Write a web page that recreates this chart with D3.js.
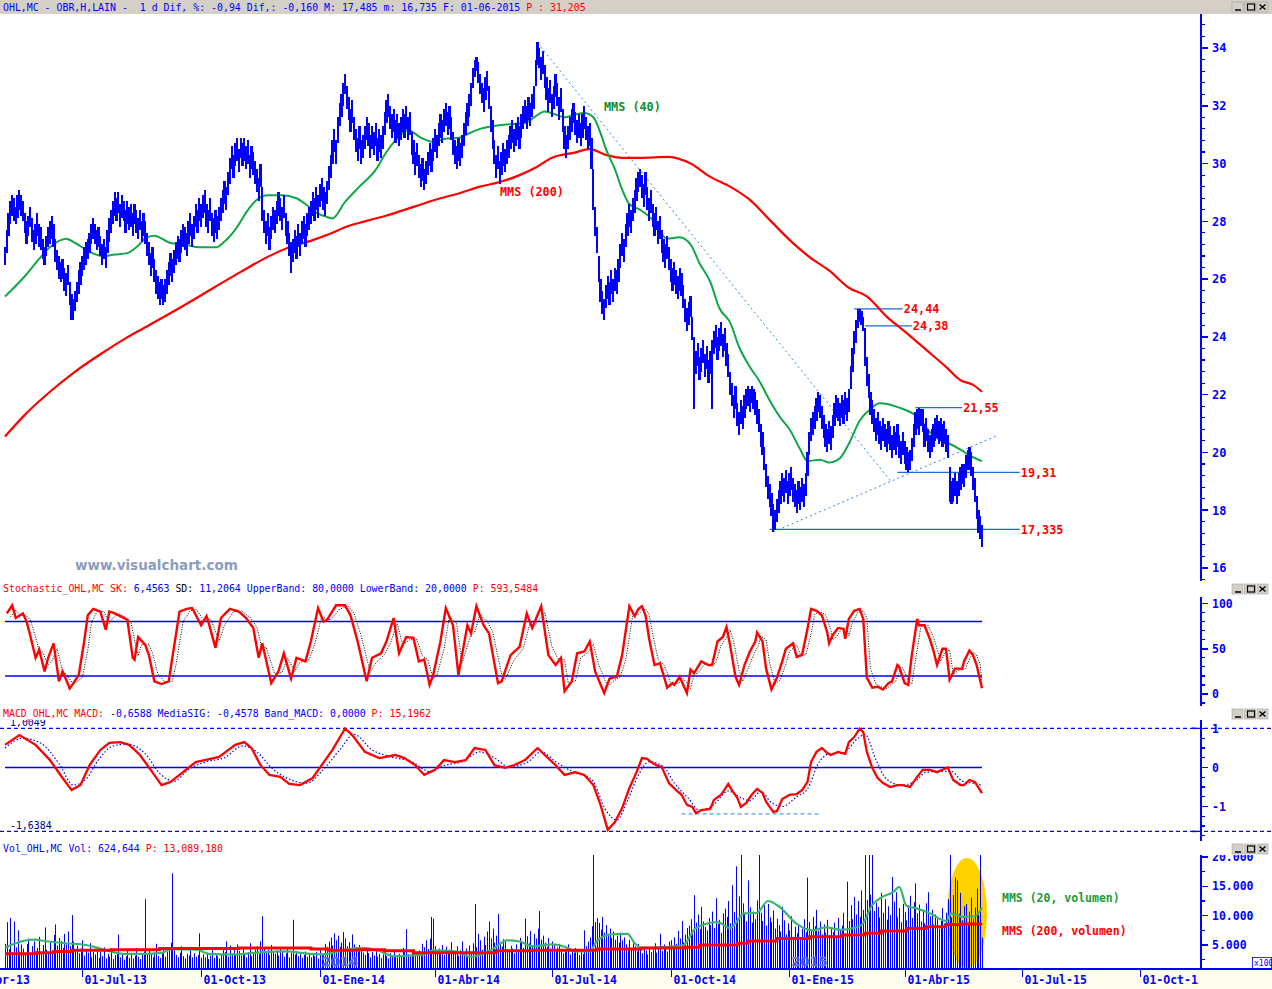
<!DOCTYPE html>
<html><head><meta charset="utf-8">
<script src="https://cdn.jsdelivr.net/npm/d3@7"></script>
<style>body{margin:0;background:#fff;}svg{display:block;}text{white-space:pre;}</style>
</head><body>
<script>
// ---------- DATA ----------
const firstTradingDay = "2013-05-01";
const lows = [
26.5,26.9,27.5,27.9,28.2,28.0,27.9,28.1,28.4,28.2, 28.0,27.6,27.2,27.5,27.8,27.3,27.0,27.2,27.5,27.1,
27.0,26.7,26.5,26.8,27.1,27.2,27.4,27.1,26.6,26.3, 26.0,25.9,26.0,25.6,25.4,25.8,25.1,24.6,24.6,24.9,
25.2,25.5,25.8,26.1,26.3,26.5,26.7,26.9,27.2,27.4, 27.2,27.0,27.1,26.8,26.5,26.7,26.4,26.9,27.3,27.6,
27.9,28.2,28.0,28.3,27.8,28.1,28.0,27.6,27.9,27.7, 27.8,27.5,27.9,27.6,27.4,27.7,27.3,27.5,27.2,26.8,
26.5,26.1,26.4,25.9,25.5,25.3,25.1,25.3,25.1,25.2, 25.5,25.8,26.1,25.9,26.2,26.5,26.7,26.6,26.9,27.1,
27.0,26.8,27.2,27.5,27.1,27.4,27.8,27.6,28.0,27.8, 28.1,28.3,27.8,27.6,28.0,27.5,27.3,27.6,27.4,27.7,
28.0,28.3,28.6,28.4,28.9,29.3,29.8,29.5,29.9,30.1, 29.7,30.2,29.9,30.1,29.8,30.0,29.5,29.8,29.6,29.3,
29.0,28.7,29.2,28.0,27.6,27.2,27.5,27.0,27.4,27.7, 27.6,27.9,28.2,28.0,27.7,28.1,27.5,27.2,26.8,26.2,
26.6,26.9,26.7,27.1,26.8,27.2,27.4,27.1,27.5,27.7, 27.9,28.2,28.0,28.4,28.1,28.5,28.7,28.4,28.2,28.6,
29.1,29.5,30.0,30.4,30.0,30.7,31.3,31.6,32.0,32.4, 31.9,31.5,31.1,31.4,30.8,30.4,30.1,30.5,30.0,30.2,
30.5,30.8,30.6,30.2,30.5,30.3,30.6,30.1,30.4,30.2, 30.5,31.0,31.4,31.6,31.2,30.9,31.1,30.7,30.9,30.6,
30.8,31.1,30.9,31.2,30.8,31.0,30.3,30.0,29.6,29.9, 29.5,29.2,29.4,29.1,29.3,29.6,29.9,29.7,30.1,30.4,
30.2,30.6,30.9,30.7,31.1,31.3,31.0,31.2,30.8,30.3, 30.0,29.8,30.1,29.9,30.2,30.6,31.0,31.3,31.6,32.0,
32.6,33.0,33.2,32.8,32.4,32.1,31.8,32.2,32.5,31.9, 31.1,30.5,30.0,29.5,29.8,29.3,29.6,29.9,29.7,30.0,
30.2,30.5,30.7,30.4,30.6,30.8,30.5,30.9,31.2,31.4, 31.2,31.5,31.3,31.6,31.9,32.7,33.4,33.3,32.9,33.1,
32.6,32.2,31.8,32.1,31.6,31.9,32.3,32.0,31.5,31.8, 31.1,30.5,30.2,30.5,30.8,31.1,31.4,31.0,30.7,30.9,
30.6,30.9,31.2,30.8,30.5,30.6,29.8,28.4,27.5,26.9, 25.9,25.2,24.8,24.6,25.0,25.3,25.1,25.5,25.2,25.6,
25.5,25.9,26.4,26.8,26.6,27.1,27.5,27.8,27.6,28.0, 28.3,28.7,29.0,29.2,28.8,28.5,28.9,28.4,28.0,28.3,
27.8,27.5,27.7,27.2,27.4,26.9,26.6,26.4,26.7,26.3, 25.9,25.6,25.8,25.5,25.3,25.6,25.4,25.0,24.5,24.2,
24.4,24.7,23.9,21.5,22.7,23.0,22.5,22.8,23.1,22.6, 22.9,22.4,22.7,21.5,23.4,23.6,23.2,23.5,23.7,23.3,
23.5,23.0,22.6,22.0,21.6,21.2,21.5,20.9,20.6,21.0, 20.8,21.2,21.5,21.6,21.4,21.7,21.5,21.3,21.0,20.7,
20.2,19.9,19.4,18.8,18.4,18.1,17.8,17.25,17.3,17.6, 17.9,18.2,18.5,18.3,18.6,18.2,18.5,18.7,18.3,18.1,
17.9,18.2,18.0,18.3,18.1,18.5,19.2,19.9,20.4,20.6, 20.8,21.1,21.4,21.2,20.8,20.5,20.2,20.0,20.3,20.1,
20.5,20.9,21.2,21.1,20.9,21.2,21.0,21.3,21.1,21.4, 22.2,22.8,23.4,23.8,24.3,24.5,24.4,24.2,23.0,22.3,
21.9,21.3,21.0,20.7,20.4,20.6,20.3,20.1,20.4,20.2, 20.0,20.3,20.1,19.8,20.1,19.9,20.2,19.8,19.6,19.9,
19.6,19.4,19.31,19.4,19.7,20.2,20.6,20.8,20.6,20.9, 20.7,20.2,20.4,20.0,19.8,20.0,20.2,20.4,20.5,20.3,
20.4,20.2,20.3,20.0,19.8,18.3,18.2,18.3,18.5,18.2, 18.5,18.7,18.9,18.8,19.1,19.4,19.4,19.2,18.7,18.3,
17.7,17.2,17.0,16.74];
const highs = [
27.1,27.7,28.3,28.7,28.9,28.8,28.5,28.9,29.1,28.9, 28.7,28.3,28.0,28.2,28.5,28.1,27.7,27.9,28.3,27.9,
27.8,27.4,27.1,27.5,27.8,28.0,28.2,27.9,27.4,27.0, 26.8,26.6,26.7,26.4,26.2,26.5,25.9,25.5,25.3,25.6,
25.9,26.3,26.6,26.8,27.1,27.3,27.4,27.6,27.9,28.1, 27.9,27.7,27.8,27.5,27.2,27.4,27.1,27.7,28.1,28.4,
28.7,29.0,28.8,29.0,28.6,28.9,28.7,28.4,28.7,28.5, 28.6,28.3,28.6,28.4,28.1,28.4,28.0,28.3,28.0,27.6,
27.3,26.9,27.1,26.7,26.3,26.1,25.9,26.0,25.8,26.0, 26.3,26.6,26.9,26.7,27.0,27.3,27.5,27.4,27.7,27.9,
27.8,27.6,28.0,28.3,27.9,28.2,28.6,28.4,28.8,28.6, 28.9,29.1,28.6,28.4,28.8,28.3,28.1,28.4,28.2,28.5,
28.8,29.1,29.4,29.2,29.7,30.2,30.6,30.3,30.7,30.9, 30.5,30.9,30.7,30.9,30.6,30.8,30.3,30.6,30.4,30.1,
29.8,29.5,30.0,29.2,28.4,28.0,28.3,27.8,28.2,28.5, 28.4,28.7,29.0,28.8,28.5,28.9,28.3,28.0,27.6,27.3,
27.4,27.7,27.5,27.9,27.6,28.0,28.2,27.9,28.3,28.5, 28.7,29.0,28.8,29.2,28.9,29.3,29.5,29.2,29.0,29.4,
29.9,30.3,30.8,31.2,30.8,31.6,32.1,32.4,32.8,33.1, 32.7,32.3,31.9,32.2,31.6,31.2,30.9,31.3,30.8,31.0,
31.3,31.6,31.4,31.0,31.3,31.1,31.4,30.9,31.2,31.0, 31.3,31.8,32.2,32.4,32.0,31.7,31.9,31.5,31.7,31.4,
31.6,31.9,31.7,32.0,31.6,31.8,31.1,30.8,30.4,30.7, 30.3,30.0,30.2,29.8,30.1,30.4,30.7,30.5,30.9,31.2,
31.0,31.4,31.7,31.5,31.9,32.1,31.8,32.0,31.6,31.1, 30.8,30.6,30.9,30.7,31.0,31.4,31.8,32.1,32.4,32.8,
33.3,33.6,33.7,33.5,33.1,32.8,32.6,33.0,33.2,32.7, 32.0,31.5,30.8,30.3,30.6,30.1,30.4,30.7,30.5,30.8,
31.0,31.3,31.5,31.2,31.4,31.6,31.3,31.7,32.0,32.2, 32.0,32.3,32.1,32.4,32.7,33.6,34.2,34.0,33.7,33.9,
33.4,33.0,32.6,32.9,32.4,32.7,33.1,32.8,32.3,32.6, 31.9,31.3,31.0,31.3,31.6,31.9,32.1,31.8,31.5,31.7,
31.4,31.7,32.0,31.6,31.3,31.4,30.9,29.8,28.5,27.8, 26.8,26.0,25.6,25.3,25.8,26.1,25.9,26.3,26.0,26.4,
26.3,26.7,27.2,27.6,27.4,27.9,28.3,28.6,28.4,28.8, 29.1,29.5,29.7,29.8,29.6,29.3,29.7,29.2,28.8,29.1,
28.6,28.3,28.5,28.0,28.2,27.7,27.4,27.2,27.5,27.1, 26.7,26.4,26.6,26.3,26.1,26.4,26.2,25.8,25.3,25.0,
25.2,25.4,24.7,24.0,23.5,23.8,23.3,23.6,23.9,23.4, 23.7,23.2,23.5,23.9,24.2,24.4,24.0,24.3,24.5,24.1,
24.3,23.8,23.4,22.8,22.4,22.0,22.3,21.7,21.4,21.8, 21.6,22.0,22.2,22.3,22.2,22.3,22.2,22.1,21.8,21.5,
21.0,20.7,20.2,19.6,19.2,18.9,18.6,18.2,18.0,18.4, 18.7,19.0,19.3,19.1,19.4,19.0,19.3,19.5,19.1,18.9,
18.7,19.0,18.8,19.1,18.9,19.3,20.0,20.7,21.2,21.4, 21.6,21.9,22.1,22.0,21.6,21.3,21.0,20.8,21.1,20.9,
21.3,21.7,22.0,21.9,21.7,22.0,21.8,22.1,21.9,22.2, 23.0,23.6,24.2,24.6,24.95,24.95,24.9,24.7,24.3,23.3,
22.7,22.1,21.8,21.5,21.2,21.4,21.1,20.9,21.2,21.0, 20.8,21.1,20.9,20.6,20.9,20.7,21.0,20.6,20.4,20.7,
20.4,20.2,20.0,20.1,20.5,21.0,21.4,21.5,21.55,21.5, 21.5,21.0,21.2,20.8,20.6,20.8,21.0,21.2,21.3,21.1,
21.2,21.0,21.1,20.8,20.6,19.5,19.0,19.1,19.3,19.0, 19.3,19.5,19.6,19.6,19.9,20.1,20.2,20.0,19.5,19.1,
18.5,18.0,17.8,17.49];
const volume = [
5200,8900,4300,9600,3800,9000,4600,7500,3900,5100, 4400,3600,5200,6100,3300,4800,5600,3900,4500,6400,
3800,5000,8000,4200,3500,5500,4100,6700,8500,4900, 6200,5700,4500,6900,5100,7300,4800,10100,5600,4300,
4900,3600,4400,5800,3200,4100,3700,5300,2900,3800, 3400,4200,2800,3900,3100,4600,2700,3500,3000,4400,
2600,3300,3800,6800,2900,3500,2500,3100,4000,2800, 3600,2700,3200,4500,3000,2600,3400,3900,12800,3300,
4100,3500,2900,3700,5200,3100,2800,3600,4300,3000, 3800,4600,5400,17200,4200,3300,2900,3700,4800,3100,
2700,3500,3200,4100,2900,3600,3000,3300,7000,2800, 3400,2900,3700,2600,3200,4300,2800,3500,3100,2700,
3300,4400,3800,5600,3000,4900,3600,4200,3400,5100, 4000,3200,4700,3500,2900,3800,5300,3100,3600,4200,
4800,3500,5600,9900,4400,3700,4200,3300,5000,3900, 3500,4100,3200,4600,3800,3000,3600,4300,2900,3700,
9300,3400,4000,3100,3600,2800,3300,3900,3000,3500, 2900,3400,3100,3800,2700,4200,3300,3600,5200,4700,
5600,6300,4900,7000,5800,6600,4700,5400,7200,6100, 4800,5500,4200,6800,5100,4600,3900,5000,4300,3700,
3300,4100,3600,2900,3800,3200,4400,3000,3500,2800, 3400,3900,3100,2700,3600,3000,4200,3300,2900,3500,
3200,4500,3800,7700,3400,3000,3700,4200,3300,3600, 4100,3500,5200,4600,5800,4300,6100,9800,9500,4800,
3900,4400,3600,5000,3300,4700,3800,4200,5500,4000, 3500,4800,3200,4100,5600,3700,4400,3000,4900,3600,
5300,12000,4600,6900,5800,4200,6400,5000,7300,9000, 6100,7800,5400,6600,10300,5200,4700,6000,5500,4300,
3800,4900,4400,3600,5100,4000,6200,5700,4500,9500, 6500,5300,7400,4800,6900,6100,7800,10800,5900,6600,
5400,4700,6200,4400,5600,5000,3900,4600,5200,4100, 3600,4300,3800,5100,3400,4000,3700,4500,3900,3300,
4200,3500,7500,4800,5600,6300,8200,24000,8900,9600, 8800,7600,9800,7100,8400,6900,7800,6200,7300,5900,
6600,5400,7100,5800,6300,5100,4600,5900,4400,5300, 4800,3900,5200,4300,3600,4700,4100,3400,4500,3800,
4200,5300,3700,4600,6900,4000,5100,4400,3900,5600, 5800,4700,6300,5200,7400,6100,9100,5500,6800,7900,
8300,9400,7200,13500,8800,10200,7700,11500,9000,8100, 7500,9600,8400,10700,7900,13000,8600,9300,7100,10400,
11200,9800,12500,8700,15200,10600,18400,9500,13300,24000, 12100,10300,9000,16000,11400,8800,10700,9400,12600,24000,
10500,9100,11800,8300,12000,9700,8900,10900,7800,9500, 8400,7300,11500,9200,6800,8700,7500,9900,6400,8100,
7000,8600,6300,7800,9400,7200,16500,8900,7600,9800, 8200,11000,7400,9000,6800,8500,7100,9300,6600,7900,
7200,8800,6500,9600,7700,8300,10500,7000,15800,9100, 11800,9400,13200,10200,12500,9800,14300,11000,24000,12700,
24000,13600,24000,10800,12200,11500,9700,13900,10500,12800, 9300,11600,10100,16600,12400,14000,9800,11300,8900,12000,
10600,9200,11700,13400,9600,12300,15500,10400,11900,9000, 10800,8700,12100,14000,9900,11000,8500,10200,9400,7800,
9100,11300,8600,10500,12800,24000,9700,13500,16500,16000, 10300,13900,9200,11600,12000,8800,10700,13100,9500,11400,
14600,10200,24000,6246];
// moving averages on price: [trading day index, value]
const mms40 = [[0,25.4],[11,26.1],[19,26.7],[25,27.1],[31,27.35],[34,27.4],[39,27.25],[47,26.95],[54,26.8],[61,26.85],[68,26.9],[73,27.1],[79,27.45],[83,27.5],[92,27.25],[100,27.2],[108,27.1],[117,27.1],[122,27.3],[129,27.8],[134,28.3],[140,28.75],[146,28.9],[154,28.9],[162,28.8],[168,28.55],[173,28.3],[179,28.15],[182,28.1],[189,28.67],[197,29.2],[206,29.78],[212,30.4],[221,31.05],[224,31.16],[231,30.9],[238,30.75],[244,30.85],[253,30.9],[258,31.05],[264,31.2],[269,31.27],[277,31.34],[283,31.37],[289,31.4],[294,31.6],[300,31.8],[306,31.7],[311,31.6],[317,31.7],[322,31.75],[327,31.6],[331,31.05],[334,30.5],[339,29.8],[343,29.1],[347,28.6],[353,28.4],[360,28.05],[368,27.4],[375,27.45],[381,27.2],[386,26.55],[392,25.9],[397,25.0],[403,24.5],[408,23.65],[414,22.96],[419,22.5],[425,21.8],[431,21.2],[436,20.8],[442,20.1],[446,19.7],[453,19.75],[458,19.65],[464,19.8],[469,20.3],[475,21.1],[481,21.5],[486,21.7],[492,21.65],[497,21.55],[503,21.4],[508,21.2],[514,20.7],[519,20.45],[525,20.3],[531,20.1],[536,19.9],[543,19.7]];
const mms200 = [[0,20.55],[11,21.3],[25,22.1],[39,22.8],[53,23.4],[67,23.95],[77,24.3],[97,25.0],[116,25.7],[131,26.25],[146,26.77],[158,27.1],[171,27.35],[181,27.58],[190,27.82],[200,28.0],[212,28.2],[227,28.5],[242,28.8],[253,28.98],[264,29.2],[275,29.36],[286,29.6],[296,29.9],[304,30.2],[316,30.37],[325,30.5],[334,30.3],[343,30.2],[353,30.2],[369,30.23],[381,30.0],[392,29.54],[403,29.2],[414,28.74],[425,28.05],[436,27.36],[447,26.77],[458,26.3],[469,25.7],[479,25.4],[490,24.7],[501,24.14],[512,23.55],[523,22.96],[531,22.5],[538,22.34],[543,22.1]];
const stochK = [[1,89],[4,98],[6,84],[10,89],[12,80],[14,65],[17,40],[19,49],[22,25],[24,40],[27,56],[30,14],[32,25],[36,6],[41,21],[44,58],[46,87],[49,94],[53,91],[56,71],[58,91],[61,89],[64,86],[68,82],[71,40],[72,38],[74,63],[78,54],[80,43],[83,14],[87,11],[91,14],[93,40],[97,91],[101,94],[104,95],[109,76],[112,86],[113,80],[117,51],[120,84],[125,94],[130,91],[134,84],[138,73],[141,40],[143,56],[148,12],[152,25],[155,45],[159,17],[162,40],[167,36],[170,58],[174,95],[177,80],[179,82],[184,98],[189,98],[192,87],[196,58],[201,14],[204,40],[209,45],[212,58],[216,84],[219,45],[223,63],[227,62],[230,36],[233,38],[236,10],[238,21],[242,58],[245,95],[249,76],[252,21],[257,76],[259,67],[262,97],[266,76],[269,67],[274,12],[276,14],[281,43],[286,52],[290,89],[293,73],[298,97],[302,43],[306,32],[309,40],[311,3],[315,14],[318,45],[322,47],[325,58],[328,25],[333,1],[336,17],[340,19],[343,43],[347,97],[350,86],[352,94],[354,97],[356,87],[358,61],[361,32],[364,34],[366,21],[368,7],[371,12],[372,10],[375,19],[377,10],[379,1],[381,27],[383,23],[387,36],[391,32],[393,32],[396,58],[399,63],[401,74],[403,54],[406,19],[408,10],[411,32],[414,47],[417,58],[418,68],[421,58],[423,28],[426,5],[429,18],[432,36],[434,50],[438,56],[440,41],[443,43],[446,72],[448,94],[451,92],[454,87],[457,68],[458,56],[460,65],[463,73],[466,72],[467,61],[469,83],[472,92],[475,94],[477,83],[479,18],[482,7],[485,8],[488,5],[491,12],[493,14],[496,32],[497,30],[500,12],[502,10],[504,43],[507,83],[508,76],[511,76],[514,61],[516,48],[518,32],[521,50],[523,50],[525,16],[528,28],[532,28],[533,36],[536,48],[538,43],[540,32],[543,6.46]];
const stochD = [[3,85],[6,93],[8,88],[12,86],[14,82],[16,70],[19,48],[21,46],[24,32],[26,36],[29,50],[32,25],[34,22],[38,11],[43,18],[46,48],[48,78],[51,91],[55,91],[58,78],[60,84],[63,89],[66,86],[70,80],[73,50],[74,42],[76,55],[80,55],[82,45],[85,22],[89,13],[93,14],[95,32],[99,80],[103,92],[106,94],[111,80],[114,83],[115,80],[119,58],[122,76],[127,91],[132,91],[136,85],[140,74],[143,48],[145,52],[150,22],[154,24],[157,40],[161,25],[164,35],[169,38],[172,54],[176,85],[179,83],[181,82],[186,94],[191,97],[194,89],[198,64],[203,24],[206,34],[211,44],[214,55],[218,78],[221,54],[225,60],[229,60],[232,42],[235,38],[238,17],[240,20],[244,50],[247,86],[251,78],[254,34],[259,66],[261,68],[264,88],[268,80],[271,69],[276,22],[278,16],[283,38],[288,50],[292,80],[295,77],[300,90],[304,52],[308,37],[311,38],[313,12],[317,14],[320,40],[324,46],[327,55],[330,32],[335,8],[338,14],[342,19],[345,38],[349,88],[352,88],[354,92],[356,94],[358,88],[360,66],[363,38],[366,33],[368,24],[370,11],[373,12],[374,11],[377,17],[379,12],[381,6],[383,22],[385,23],[389,33],[393,32],[395,34],[398,54],[401,62],[403,71],[405,58],[408,26],[410,14],[413,28],[416,43],[419,55],[420,64],[423,60],[425,34],[428,11],[431,16],[434,33],[436,47],[440,54],[442,44],[445,43],[448,66],[450,88],[453,91],[456,88],[459,71],[460,60],[462,63],[465,72],[468,71],[469,64],[471,79],[474,90],[477,92],[479,84],[481,28],[484,11],[487,8],[490,6],[493,11],[495,14],[498,28],[499,29],[502,15],[504,11],[506,37],[509,74],[510,76],[513,76],[516,63],[518,50],[520,36],[523,47],[525,49],[527,22],[530,26],[534,28],[535,34],[538,46],[540,43],[542,33],[543,11.21]];
const macdLine = [[0,0.58],[8,0.83],[17,0.58],[25,0.19],[32,-0.27],[37,-0.58],[42,-0.45],[47,0.06],[53,0.45],[58,0.63],[64,0.65],[69,0.58],[75,0.32],[81,-0.06],[87,-0.45],[92,-0.37],[97,-0.19],[106,0.14],[111,0.19],[119,0.27],[128,0.58],[133,0.65],[137,0.5],[142,0.06],[147,-0.19],[153,-0.24],[158,-0.42],[164,-0.45],[171,-0.27],[176,0.06],[182,0.45],[189,1.0],[193,0.83],[200,0.4],[208,0.24],[217,0.32],[222,0.24],[228,0.06],[233,-0.19],[239,-0.06],[244,0.19],[250,0.14],[256,0.19],[261,0.5],[267,0.45],[272,0.06],[278,-0.01],[283,0.06],[289,0.19],[296,0.5],[300,0.32],[306,0.06],[311,-0.19],[317,-0.12],[322,-0.19],[327,-0.45],[331,-0.96],[335,-1.6],[339,-1.4],[343,-1.04],[347,-0.53],[351,-0.12],[354,0.24],[357,0.22],[359,0.14],[362,0.06],[365,0.01],[367,-0.19],[369,-0.4],[373,-0.58],[376,-0.7],[379,-0.96],[382,-1.01],[384,-1.17],[387,-1.09],[392,-1.06],[394,-0.83],[398,-0.7],[402,-0.42],[404,-0.58],[407,-0.78],[409,-1.01],[412,-0.91],[415,-0.7],[418,-0.55],[421,-0.65],[423,-0.88],[427,-1.14],[429,-1.12],[432,-0.81],[436,-0.7],[440,-0.68],[443,-0.58],[446,-0.37],[448,0.14],[451,0.4],[454,0.5],[457,0.37],[459,0.32],[463,0.4],[467,0.35],[469,0.65],[472,0.78],[475,1.0],[477,0.91],[479,0.4],[482,-0.01],[485,-0.27],[488,-0.4],[492,-0.5],[496,-0.45],[499,-0.45],[503,-0.5],[507,-0.24],[510,-0.06],[514,-0.06],[518,-0.12],[522,-0.04],[524,0],[527,-0.32],[531,-0.45],[533,-0.45],[536,-0.32],[539,-0.37],[543,-0.66]];
const macdSignal = [[0,0.5],[10,0.75],[20,0.62],[30,0.1],[38,-0.45],[45,-0.3],[52,0.2],[60,0.55],[68,0.6],[78,0.35],[86,-0.15],[94,-0.35],[102,-0.05],[112,0.15],[122,0.25],[132,0.55],[140,0.4],[148,0],[158,-0.3],[168,-0.4],[176,-0.1],[186,0.45],[194,0.85],[204,0.45],[214,0.28],[226,0.15],[236,-0.1],[244,0.05],[254,0.15],[264,0.4],[272,0.25],[280,0.02],[290,0.12],[298,0.4],[306,0.15],[316,-0.12],[326,-0.3],[334,-1.1],[340,-1.35],[346,-0.85],[352,-0.2],[358,0.15],[366,0.02],[372,-0.4],[380,-0.8],[386,-1.1],[394,-0.95],[402,-0.6],[408,-0.75],[414,-0.85],[420,-0.62],[426,-0.9],[432,-1.0],[440,-0.75],[446,-0.55],[452,0.1],[458,0.35],[466,0.38],[474,0.75],[478,0.85],[484,0.2],[490,-0.3],[498,-0.45],[506,-0.35],[512,-0.12],[520,-0.1],[526,-0.1],[532,-0.35],[538,-0.4],[543,-0.46]];
const volMA20 = [[0,4500],[6,5300],[16,5900],[24,5600],[34,5300],[45,5000],[54,4300],[66,3500],[77,3500],[86,3600],[93,4300],[107,4200],[113,3500],[129,3400],[143,3800],[157,3900],[166,3600],[177,3400],[188,4100],[198,4500],[207,4100],[216,3100],[225,3200],[233,3400],[238,4100],[250,3900],[259,3000],[271,4300],[279,5800],[286,5600],[293,4800],[304,5100],[311,4700],[318,3900],[325,3900],[329,5700],[337,6800],[346,6900],[350,5300],[354,4500],[364,4600],[377,5000],[384,7900],[396,8900],[403,7900],[411,10400],[418,10500],[424,12500],[430,11600],[440,8600],[449,7500],[456,8000],[465,7600],[476,8400],[482,11800],[487,13100],[494,14100],[497,14900],[501,11700],[507,11200],[514,10400],[523,9100],[526,10400],[532,9800],[539,9900],[543,11300]];
const volMA200 = [[0,3500],[17,3700],[27,3900],[37,4100],[59,4200],[86,4400],[111,4400],[130,4500],[170,4300],[180,4100],[196,4200],[211,4000],[227,3700],[259,3700],[273,4000],[293,4100],[329,4300],[354,4500],[378,4600],[386,5000],[407,5300],[413,5700],[429,6100],[447,6400],[465,6700],[478,7000],[487,7400],[501,7800],[512,8100],[523,8500],[532,8600],[543,8600]];
// annotations
const levelLabels = ["24,44","24,38","21,55","19,31","17,335"];
const levelValues = [24.97,24.38,21.55,19.31,17.335];
const levelSpans = [[472,499],[478,504],[506,532],[496,564],[425,564]];
const trendLines = [[[296,34.17],[493,18.95]],[[427,17.25],[552,20.6]]];
const priceTicks = [16,18,20,22,24,26,28,30,32,34];
const stochTicks = [0,50,100];
const macdTicks = [-2,-1,0,1];
const volTicks = [5000,10000,15000,20000];
const dateTickDates = ["2013-04-01","2013-07-01","2013-10-01","2014-01-01","2014-04-01","2014-07-01","2014-10-01","2015-01-01","2015-04-01","2015-07-01","2015-10-01"];
const dateTickLabels = ["01-Abr-13","01-Jul-13","01-Oct-13","01-Ene-14","01-Abr-14","01-Jul-14","01-Oct-14","01-Ene-15","01-Abr-15","01-Jul-15","01-Oct-15"];

// ---------- DRAW ----------
const MONO = "'DejaVu Sans Mono','Liberation Mono',monospace";
const BLUE = "#0000ff", RED = "#ff0000";
const svg = d3.select("body").append("svg").attr("width",1272).attr("height",989)
  .style("font-family",MONO);
const defs = svg.append("defs");
function clip(id,x,y,w,h){defs.append("clipPath").attr("id",id).append("rect").attr("x",x).attr("y",y).attr("width",w).attr("height",h);}
clip("cMain",0,15,1201,566); clip("cMainAx",1195,15,77,566);
clip("cSto",0,597,1201,109); clip("cStoAx",1185,597,87,109);
clip("cMacd",0,720,1272,121); clip("cMacdAx",1185,720,87,121);
clip("cVol",0,855,1201,114); clip("cVolAx",1185,855,87,114);
clip("cDate",0,969,1199,20);

const n = lows.length;
const x = d3.scaleLinear().domain([0,n-1]).range([5,982]);
function parse(s){const p=s.split("-").map(Number);return new Date(Date.UTC(p[0],p[1]-1,p[2]));}
function weekdayIndex(s){ // trading-day index of a calendar date relative to first trading day
  const a=parse(firstTradingDay), b=parse(s); let c=0;
  const step = b>=a?1:-1; let d=new Date(a);
  while((step>0&&d<b)||(step<0&&d>b)){d=new Date(d.getTime()+step*86400000);const w=d.getUTCDay();if(w!==0&&w!==6)c+=step;}
  return c;
}

// header band
svg.append("rect").attr("x",0).attr("y",0).attr("width",1272).attr("height",14).attr("fill","#d4d0c8");
function header(y,parts){
  const t=svg.append("text").attr("x",3).attr("y",y).attr("font-size",9.9);
  parts.forEach(p=>t.append("tspan").attr("fill",p[1]).text(p[0]));
}
header(11,[["OHL,MC - OBR,H,LAIN -  1 d Dif, %: -0,94 Dif,: -0,160 M: 17,485 m: 16,735 F: 01-06-2015 ",BLUE],["P : 31,205",RED]]);
header(592,[["Stochastic_OHL,MC SK: ",RED],["6,4563 ",BLUE],["SD: ","#000"],["11,2064 UpperBand: 80,0000 LowerBand: 20,0000 ",BLUE],["P: 593,5484",RED]]);
header(717,[["MACD_OHL,MC MACD: ",RED],["-0,6588 MediaSIG: -0,4578 Band_MACD: 0,0000 ",BLUE],["P: 15,1962",RED]]);
header(852,[["Vol_OHL,MC Vol: 624,644 ",BLUE],["P: 13,089,180",RED]]);
function icons(y){
  for(let k=0;k<3;k++){
    const bx=1232+k*12.5;
    svg.append("rect").attr("x",bx).attr("y",y).attr("width",11).attr("height",10).attr("fill","#d4d0c8").attr("stroke","#a0a0a0").attr("stroke-width",0.6);
  }
  svg.append("line").attr("x1",1235).attr("x2",1241).attr("y1",y+8).attr("y2",y+8).attr("stroke","#000").attr("stroke-width",1.5);
  svg.append("rect").attr("x",1247.5).attr("y",y+2).attr("width",7).attr("height",6).attr("fill","none").attr("stroke","#000").attr("stroke-width",1.2);
  svg.append("path").attr("d",`M${1259.5},${y+2.5}L${1265.5},${y+7.5}M${1265.5},${y+2.5}L${1259.5},${y+7.5}`).attr("stroke","#000").attr("stroke-width",1.4);
}
icons(2); icons(584); icons(709); icons(844);

// right axes
function rightAxis(scale,y0,y1,majors,minors,fmt,clipId,fs){
  svg.append("line").attr("x1",1201).attr("x2",1201).attr("y1",y0).attr("y2",y1).attr("stroke",BLUE).attr("stroke-width",2);
  const g=svg.append("g").attr("clip-path",`url(#${clipId})`);
  g.selectAll("line.mi").data(minors).join("line").attr("x1",1201).attr("x2",1205).attr("y1",d=>scale(d)).attr("y2",d=>scale(d)).attr("stroke",BLUE).attr("stroke-width",1.2).attr("shape-rendering","crispEdges");
  g.selectAll("line.ma").data(majors).join("line").attr("x1",1201).attr("x2",1208).attr("y1",d=>scale(d)).attr("y2",d=>scale(d)).attr("stroke",BLUE).attr("stroke-width",1.5).attr("shape-rendering","crispEdges");
  g.selectAll("text").data(majors).join("text").attr("x",1212).attr("y",d=>scale(d)).attr("dy","0.36em")
   .attr("font-size",fs||11.5).attr("font-weight","bold").attr("fill",BLUE).text(fmt);
}

// ----- main price panel -----
const py = d3.scaleLinear().domain([16,34]).range([568,48]);
rightAxis(py,14,581,priceTicks,d3.range(14.8,35.3,0.4),d=>d,"cMainAx",12);
const gm = svg.append("g").attr("clip-path","url(#cMain)");
gm.append("text").attr("x",75).attr("y",570).attr("font-family","'DejaVu Sans',sans-serif").attr("font-weight","bold").attr("font-size",13.5).attr("fill","#8c9cbc").text("www.visualchart.com");
const lineP = (sx,sy,curve)=>d3.line().x(d=>sx(d[0])).y(d=>sy(d[1])).curve(curve||d3.curveLinear);
// trend lines
trendLines.forEach(t=>gm.append("path").attr("d",lineP(x,py)(t)).attr("stroke","#2f86e0").attr("stroke-width",1).attr("stroke-dasharray","2,3").attr("fill","none"));
// level lines
levelValues.forEach((v,k)=>{
  gm.append("line").attr("x1",x(levelSpans[k][0])).attr("x2",x(levelSpans[k][1])).attr("y1",py(v)).attr("y2",py(v)).attr("stroke","#1a6cd4").attr("stroke-width",1.3);
  gm.append("text").attr("x",x(levelSpans[k][1])+1).attr("y",py(v)).attr("dy","0.38em").attr("font-size",11.8).attr("font-weight","bold").attr("fill",RED).text(levelLabels[k]);
});
// moving averages
gm.append("path").attr("d",lineP(x,py,d3.curveMonotoneX)(mms200)).attr("stroke",RED).attr("stroke-width",2.2).attr("fill","none");
gm.append("path").attr("d",lineP(x,py,d3.curveMonotoneX)(mms40)).attr("stroke","#12a64a").attr("stroke-width",2).attr("fill","none");
// bars
gm.append("g").selectAll("rect").data(d3.range(n)).join("rect")
  .attr("x",i=>x(i)-1.1).attr("width",2.2).attr("y",i=>py(highs[i])).attr("height",i=>Math.max(1,py(lows[i])-py(highs[i])))
  .attr("fill",BLUE).attr("shape-rendering","crispEdges");
gm.append("text").attr("x",604).attr("y",107).attr("dy","0.36em").attr("font-size",11.8).attr("font-weight","bold").attr("fill","#0a8f2e").text("MMS (40)");
gm.append("text").attr("x",500).attr("y",192).attr("dy","0.36em").attr("font-size",11.8).attr("font-weight","bold").attr("fill",RED).text("MMS (200)");

// ----- stochastic panel -----
const sy = d3.scaleLinear().domain([0,100]).range([694,603.5]);
rightAxis(sy,597,706,stochTicks,d3.range(-10,111,10),d=>d,"cStoAx");
const gs = svg.append("g").attr("clip-path","url(#cSto)");
[80,20].forEach(v=>gs.append("line").attr("x1",x(0)).attr("x2",x(n-1)).attr("y1",sy(v)).attr("y2",sy(v)).attr("stroke",BLUE).attr("stroke-width",1.5));
gs.append("path").attr("d",lineP(x,sy)(stochD)).attr("stroke","#000").attr("stroke-width",1).attr("stroke-dasharray","1,1.5").attr("fill","none");
gs.append("path").attr("d",lineP(x,sy)(stochK)).attr("stroke",RED).attr("stroke-width",2.4).attr("fill","none");

// ----- MACD panel -----
const my = d3.scaleLinear().domain([-1,1]).range([806.5,728.5]);
rightAxis(my,720,841,macdTicks,d3.range(-2.25,1.3,0.25),d=>String(d),"cMacdAx");
const gc = svg.append("g").attr("clip-path","url(#cMacd)");
[1.0049,-1.6384].forEach(v=>{
  gc.append("line").attr("x1",0).attr("x2",1272).attr("y1",my(v)).attr("y2",my(v)).attr("stroke",BLUE).attr("stroke-width",1.2).attr("stroke-dasharray","4,3");
  gc.append("line").attr("x1",1192).attr("x2",1197).attr("y1",my(v)).attr("y2",my(v)).attr("stroke",BLUE).attr("stroke-width",1.5);
});
gc.append("text").attr("x",10).attr("y",my(-1.6384)-2).attr("font-size",9.9).attr("fill","#000080").text("-1,6384");
gc.append("text").attr("x",10).attr("y",my(1.0049)-2).attr("font-size",9.9).attr("fill","#000080").text("1,0049");
gc.append("line").attr("x1",x(0)).attr("x2",x(n-1)).attr("y1",my(0)).attr("y2",my(0)).attr("stroke",BLUE).attr("stroke-width",1.3);
gc.append("line").attr("x1",x(376)).attr("x2",x(453)).attr("y1",my(-1.19)).attr("y2",my(-1.19)).attr("stroke","#2f86e0").attr("stroke-width",1).attr("stroke-dasharray","4,3");
gc.append("path").attr("d",lineP(x,my,d3.curveMonotoneX)(macdSignal)).attr("stroke",BLUE).attr("stroke-width",1.2).attr("stroke-dasharray","1.5,2").attr("fill","none");
gc.append("path").attr("d",lineP(x,my)(macdLine)).attr("stroke",RED).attr("stroke-width",2.3).attr("fill","none");

// ----- volume panel -----
const vy = d3.scaleLinear().domain([5000,20000]).range([945,857]);
rightAxis(vy,855,969,volTicks,d3.range(0,25001,2500),d=>d3.format(",")(d).replace(/,/g,"."),"cVolAx");
const gv = svg.append("g").attr("clip-path","url(#cVol)");
gv.append("ellipse").attr("cx",967).attr("cy",913).attr("rx",20).attr("ry",55).attr("fill","#ffd200");
gv.append("g").selectAll("line").data(d3.range(n)).join("line")
  .attr("x1",i=>Math.round(x(i))+0.5).attr("x2",i=>Math.round(x(i))+0.5).attr("y1",969).attr("y2",i=>vy(volume[i]))
  .attr("stroke",BLUE).attr("stroke-width",1);
[["2014",175],["2015",436]].forEach(p=>gv.append("text").attr("x",x(p[1])+2).attr("y",966).attr("font-family","'DejaVu Sans',sans-serif").attr("font-weight","bold").attr("font-size",13).attr("fill","#2a3fe0").attr("stroke","#9fb0ff").attr("stroke-width",0.5).text(p[0]));
gv.append("path").attr("d",lineP(x,vy,d3.curveMonotoneX)(volMA20)).attr("stroke","#3cb371").attr("stroke-width",2.2).attr("fill","none");
gv.append("path").attr("d",lineP(x,vy,d3.curveStepAfter)(volMA200)).attr("stroke",RED).attr("stroke-width",3).attr("fill","none");
svg.append("text").attr("x",1002).attr("y",898).attr("dy","0.36em").attr("font-size",11.5).attr("fill","#1a9a3a").attr("font-weight","bold").text("MMS (20, volumen)");
svg.append("text").attr("x",1002).attr("y",931).attr("dy","0.36em").attr("font-size",11.5).attr("fill",RED).attr("font-weight","bold").text("MMS (200, volumen)");
svg.append("rect").attr("x",1252.5).attr("y",957.5).attr("width",19).attr("height",11).attr("fill","#fff").attr("stroke",BLUE).attr("stroke-width",0.8);
svg.append("text").attr("x",1254).attr("y",966).attr("font-size",8).attr("fill",BLUE).text("x100");

// ----- date axis -----
svg.append("rect").attr("x",0).attr("y",969).attr("width",1272).attr("height",20).attr("fill","#fdfdef");
svg.append("line").attr("x1",0).attr("x2",1272).attr("y1",969).attr("y2",969).attr("stroke",BLUE).attr("stroke-width",2);
const gd = svg.append("g").attr("clip-path","url(#cDate)");
dateTickDates.forEach((ds,k)=>{
  const xx = Math.round(x(weekdayIndex(ds)))+0.5;
  gd.append("line").attr("x1",xx).attr("x2",xx).attr("y1",969).attr("y2",977).attr("stroke",BLUE).attr("stroke-width",1);
  gd.append("text").attr("x",xx+2).attr("y",984).attr("font-size",11.5).attr("font-weight","bold").attr("fill",BLUE).text(dateTickLabels[k]);
});
</script>
</body></html>
